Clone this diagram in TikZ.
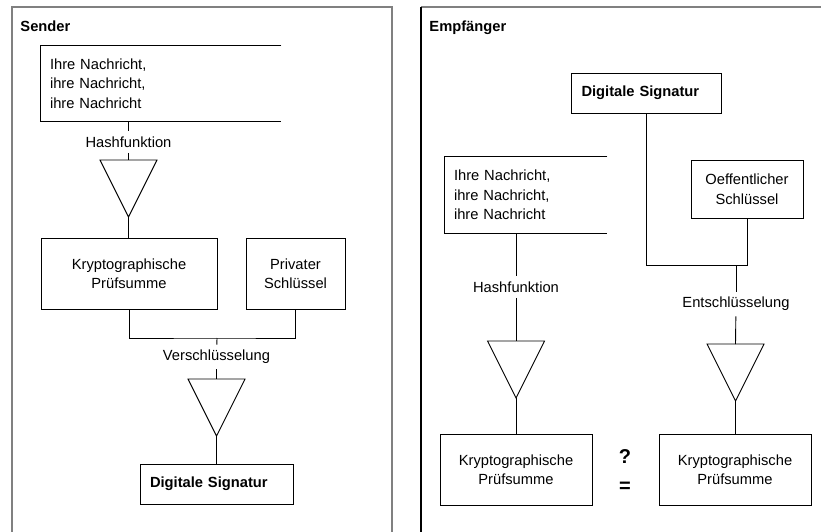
\documentclass[tikz,border=0pt]{standalone}
\usepackage{fontspec}
\setmainfont{Liberation Sans}
\usetikzlibrary{shapes.geometric,positioning,calc}
\tikzset{
  boxfont/.style={font=\fontsize{14.7}{19.5}\selectfont},
  msgbox/.style={boxfont,align=left,inner xsep=9pt,inner ysep=0pt,minimum height=75pt},
  sumbox/.style={draw,boxfont,align=center,inner sep=0pt,minimum height=71pt},
  sigbox/.style={draw,font=\fontsize{14.7}{19.5}\selectfont\bfseries,align=left,
    inner xsep=10pt,inner ysep=0pt,minimum height=40pt},
  funnel/.style={draw,isosceles triangle,isosceles triangle stretches,shape border rotate=270,
    minimum width=57pt,minimum height=57pt,inner sep=0pt,outer sep=0pt,anchor=lower side},
  steplabel/.style={boxfont,inner xsep=2pt,inner ysep=5pt},
  paneltitle/.style={font=\fontsize{14.7}{19.5}\selectfont\bfseries,anchor=base west,inner sep=0pt},
  panelframe/.style={draw=black!50,line width=2pt},
  cmpmark/.style={font=\fontsize{20}{24}\selectfont\bfseries,inner sep=0pt}
}

\begin{document}
\begin{tikzpicture}[x=1pt,y=-1pt,line width=0.9pt]
  \useasboundingbox (0,0) rectangle (821,532);
  % panels
  \draw[panelframe] (12,532) |- (392,7) -- (392,532);
  \draw[panelframe] (421,7) -- (821,7);
  \draw[line width=1.4pt] (421,7) -- (421,532);
  \node[paneltitle] (sender) at (20,32) {Sender};
  \node[paneltitle] (receiver) at (429,32) {Empfänger};

  % sender side
  \node[msgbox,text width=222pt] (msgS) at (161,83.5) {Ihre Nachricht,\\ihre Nachricht,\\ihre Nachricht};
  \draw (msgS.north east) -- (msgS.north west) -- (msgS.south west) -- (msgS.south east);
  \node[funnel] (hashS) at (128.5,160) {};
  \node[sumbox,minimum width=176pt] (sumS) at (129,273.5) {Kryptographische\\Prüfsumme};
  \node[sumbox,minimum width=99pt] (keyS) at (295.5,273.5) {Privater\\Schlüssel};
  \coordinate (joinS) at (217,338);
  \node[funnel] (encS) at (216.5,379) {};
  \node[sigbox,text width=133pt] (sigS) at (216.5,484) {Digitale Signatur};
  \node[steplabel] (hashlabS) at (128.5,142) {Hashfunktion};
  \node[steplabel] (enclabS) at (216.5,357) {Verschlüsselung};
  \draw (msgS.south -| hashlabS) -- (hashlabS);
  \draw (hashlabS) -- (hashS.lower side);
  \draw (hashS.apex) -- (hashS.apex |- sumS.north);
  \draw (sumS.south) |- (joinS) -| (keyS.south);
  \draw (joinS) -- (enclabS);
  \draw (enclabS) -- (encS.lower side);
  \draw (encS.apex) -- (encS.apex |- sigS.north);

  % receiver side
  \node[sigbox,text width=130pt] (sigE) at (646.5,93) {Digitale Signatur};
  \node[msgbox,text width=144pt,minimum height=76pt] (msgE) at (526,195) {Ihre Nachricht,\\ihre Nachricht,\\ihre Nachricht};
  \draw (msgE.north east) -- (msgE.north west) -- (msgE.south west) -- (msgE.south east);
  \node[sumbox,minimum width=112pt,minimum height=58pt] (keyE) at (747,189) {Oeffentlicher\\Schlüssel};
  \coordinate (joinE) at (736,265);
  \node[funnel] (hashE) at (516,341) {};
  \node[funnel] (decE) at (735.5,344) {};
  \node[sumbox,minimum width=152pt] (sumE1) at (516,469.5) {Kryptographische\\Prüfsumme};
  \node[sumbox,minimum width=152pt] (sumE2) at (735,469.5) {Kryptographische\\Prüfsumme};
  \node[cmpmark] (qmark) at (625,457) {?};
  \node[cmpmark] (eqmark) at (625,487) {=};
  \node[steplabel] (hashlabE) at (516,287) {Hashfunktion};
  \node[steplabel] (declabE) at (736,304) {Entschlüsselung};
  \draw (sigE.south) |- (keyE.south |- joinE) -- (keyE.south);
  \draw (msgE.south -| hashlabE) -- (hashlabE);
  \draw (hashlabE) -- (hashE.lower side);
  \draw (joinE) -- (declabE);
  \draw (declabE) -- (decE.lower side);
  \draw (hashE.apex) -- (hashE.apex |- sumE1.north);
  \draw (decE.apex) -- (decE.apex |- sumE2.north);
\end{tikzpicture}
\end{document}
